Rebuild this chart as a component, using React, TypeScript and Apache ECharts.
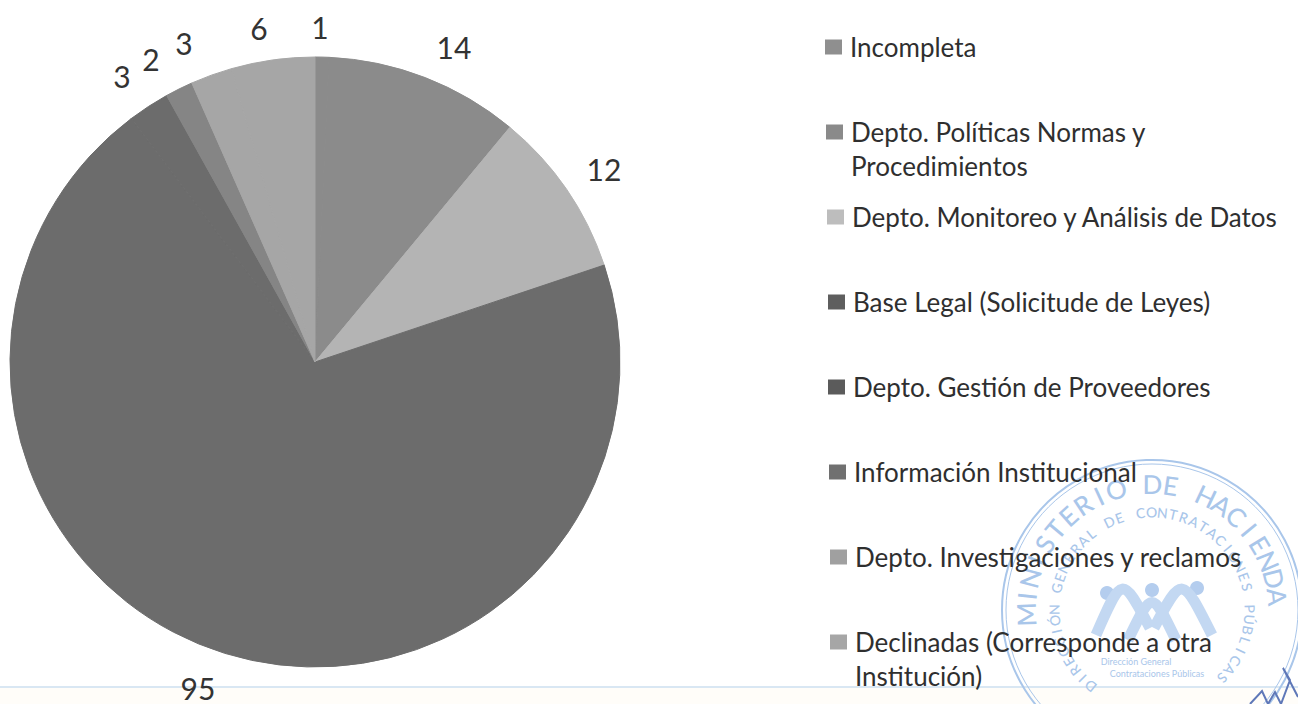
import React, { useEffect, useRef } from "react";
import * as echarts from "echarts";

const categories = [
  "Incompleta",
  "Depto. Políticas Normas y Procedimientos",
  "Depto. Monitoreo y Análisis de Datos",
  "Base Legal (Solicitude de Leyes)",
  "Depto. Gestión de Proveedores",
  "Información Institucional",
  "Depto. Investigaciones y reclamos",
  "Declinadas (Corresponde a otra Institución)",
];
const values = [1, 14, 12, 95, 3, 2, 3, 6];
const sliceColors = ["#8b8b8b", "#8b8b8b", "#b4b4b4", "#6c6c6c", "#6c6c6c", "#858585", "#a6a6a6", "#a6a6a6"];
const legendColors = ["#8f8f8f", "#8a8a8a", "#bdbdbd", "#5e5e5e", "#5b5b5b", "#707070", "#a0a0a0", "#a6a6a6"];
const legendLabels = [
  "Incompleta",
  "\nDepto. Políticas Normas y\nProcedimientos",
  "Depto. Monitoreo y Análisis de Datos",
  "Base Legal (Solicitude de Leyes)",
  "Depto. Gestión de Proveedores",
  "Información Institucional",
  "Depto. Investigaciones y reclamos",
  "\nDeclinadas (Corresponde a otra\nInstitución)",
];
const legendAnchors = [
  [825, 47], [826, 132], [827, 217], [828, 302], [828, 387], [829, 472], [830, 557], [830, 642],
];
const labelAnchors = [
  [320, 27], [454, 47], [604, 169], [198, 688], [122, 76], [151, 59], [184, 43], [259, 28],
];

const FONT = "Lato, 'Open Sans', sans-serif";
const LEGEND_LINE = 34;
const STAMP = "#a9c6ea";
const STAMP_X = 1152;
const STAMP_Y = 610;
const stampOuter = "MINISTERIO DE HACIENDA";
const stampInner = "DIRECCIÓN GENERAL DE CONTRATACIONES PÚBLICAS";

function arcText(text: string, r: number, from: number, to: number, size: number, weight: string) {
  const chars = Array.from(text);
  return chars.map((ch, i) => {
    const deg = from + ((to - from) * i) / (chars.length - 1);
    const a = (deg * Math.PI) / 180;
    return {
      type: "text",
      x: STAMP_X + r * Math.sin(a),
      y: STAMP_Y - r * Math.cos(a),
      rotation: -a,
      silent: true,
      style: { text: ch, fill: STAMP, font: `${weight} ${size}px ${FONT}`, align: "center", verticalAlign: "middle" },
    };
  });
}

export default function App() {
  const ref = useRef<HTMLDivElement>(null);
  useEffect(() => {
    const chart = echarts.init(ref.current!, undefined, { renderer: "svg" });
    const stampRing = (r: number, w: number) => ({
      type: "circle",
      silent: true,
      shape: { cx: STAMP_X, cy: STAMP_Y, r },
      style: { fill: "none", stroke: STAMP, lineWidth: w },
    });
    const flower = (cx: number, cy: number) => ({
      type: "circle",
      silent: true,
      shape: { cx, cy, r: 7 },
      style: { fill: "#b4cdee" },
    });
    const swoop = (x1: number, y1: number, cx: number, cy: number, x2: number, y2: number) => ({
      type: "bezierCurve",
      silent: true,
      shape: { x1, y1, x2, y2, cpx1: cx, cpy1: cy, cpx2: cx, cpy2: cy },
      style: { fill: "none", stroke: "#c3d8f2", lineWidth: 11 },
    });
    chart.setOption({
      animation: false,
      backgroundColor: "#ffffff",
      graphic: {
        elements: [
          { type: "rect", silent: true, z: -2, shape: { x: 0, y: 688, width: 1298, height: 16 }, style: { fill: "#fffdf9" } },
          { type: "rect", silent: true, z: -1, shape: { x: 0, y: 686, width: 1298, height: 2 }, style: { fill: "#d9e7f3" } },
          stampRing(150, 2),
          stampRing(146, 1),
          ...arcText(stampOuter, 126, -92, 84, 26, "500"),
          ...arcText(stampInner, 98, -141, 134, 14, "500"),
          flower(1107, 593),
          flower(1152, 590),
          flower(1197, 588),
          swoop(1096, 635, 1122, 575, 1150, 628),
          swoop(1154, 628, 1182, 575, 1212, 635),
          swoop(1128, 640, 1152, 590, 1176, 640),
          {
            type: "text", silent: true, x: 1136, y: 661,
            style: { text: "Dirección General", fill: STAMP, font: `9px ${FONT}`, align: "center", verticalAlign: "middle" },
          },
          {
            type: "text", silent: true, x: 1157, y: 673,
            style: { text: "Contrataciones Públicas", fill: STAMP, font: `9px ${FONT}`, align: "center", verticalAlign: "middle" },
          },
          {
            type: "polyline", silent: true,
            shape: { points: [[1250, 704], [1262, 691], [1268, 704], [1275, 692], [1281, 704], [1290, 680], [1283, 668], [1298, 697]] },
            style: { fill: "none", stroke: "#5f78b8", lineWidth: 2 },
          },
        ],
      },
      legend: categories.map((name, i) => ({
        show: true,
        data: [{ name, itemStyle: { color: legendColors[i], borderWidth: 0 } }],
        left: legendAnchors[i][0],
        top: legendAnchors[i][1] - (legendLabels[i].split("\n").length * LEGEND_LINE) / 2,
        padding: 0,
        orient: "vertical",
        selectedMode: false,
        icon: "rect",
        itemWidth: 17,
        itemHeight: 15,
        itemStyle: { borderWidth: 0 },
        formatter: () => legendLabels[i],
        textStyle: {
          fontFamily: FONT,
          fontSize: 26,
          color: "#2f2f2f",
          lineHeight: LEGEND_LINE,
          padding: [0, 0, 0, 3],
        },
      })),
      series: [
        {
          type: "pie",
          center: [315, 362],
          radius: 305,
          startAngle: 90,
          clockwise: true,
          avoidLabelOverlap: false,
          data: categories.map((name, i) => ({
            name,
            value: values[i],
            itemStyle: { color: sliceColors[i], borderColor: sliceColors[i], borderWidth: 1 },
          })),
          label: {
            show: true,
            position: "outside",
            formatter: "{c}",
            fontFamily: FONT,
            fontSize: 30,
            color: "#333333",
          },
          labelLine: { show: false },
          labelLayout: (p: any) => ({
            x: labelAnchors[p.dataIndex][0],
            y: labelAnchors[p.dataIndex][1],
            align: "center",
            verticalAlign: "middle",
          }),
          emphasis: { disabled: true },
        },
      ],
    });
    return () => chart.dispose();
  }, []);
  return <div ref={ref} style={{ position: "absolute", left: 0, top: 0, width: 1298, height: 704 }} />;
}
